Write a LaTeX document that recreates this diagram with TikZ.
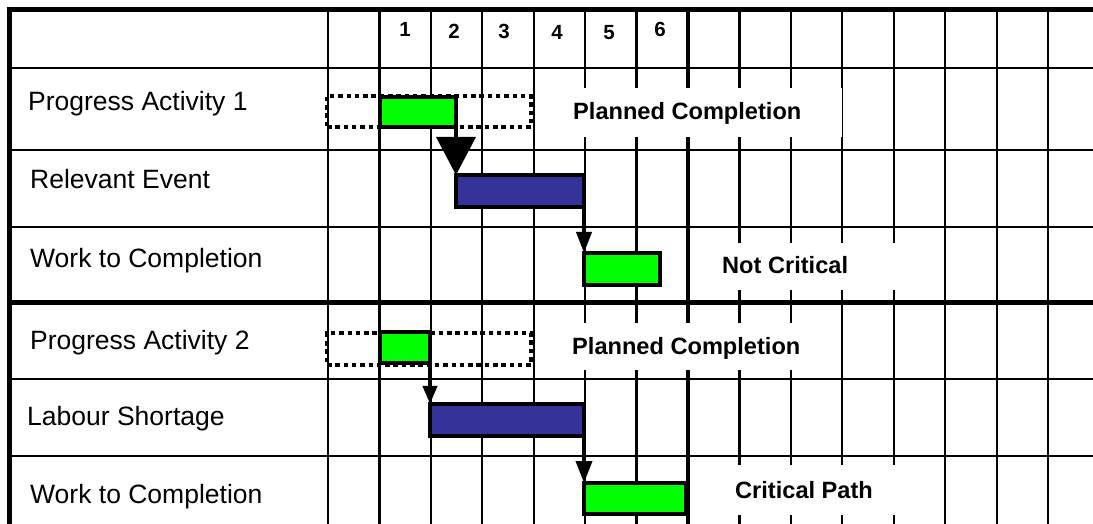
\documentclass[tikz,border=0pt]{standalone}
\usepackage{fontspec}
\setmainfont{Liberation Sans}
\usetikzlibrary{arrows.meta}
\definecolor{barGreen}{HTML}{00FF00}
\definecolor{barBlue}{HTML}{333399}
\begin{document}
\begin{tikzpicture}[x=1bp,y=-1bp,
  thin grid/.style={line width=2.2bp, draw=black},
  thick grid/.style={line width=5bp, draw=black},
  barbase/.style={rectangle, inner sep=0pt, outer sep=0pt},
  greenbar/.style={barbase, draw=black, fill=barGreen, line width=3.5bp},
  bluebar/.style={barbase, draw=black, fill=barBlue, line width=4bp},
  planbox/.style={barbase, draw=black, line width=4bp, dash pattern=on 4.5bp off 3.8bp},
  rowlabel/.style={anchor=base west, inner sep=0pt, font=\fontsize{26.5bp}{30bp}\selectfont},
  note/.style={anchor=base west, inner sep=0pt, font=\fontsize{23.6bp}{28bp}\selectfont\bfseries},
  daynum/.style={anchor=base, inner sep=0pt, font=\fontsize{20.5bp}{24bp}\selectfont\bfseries},
  link/.style={line width=3.8bp, draw=black},
  labelbg/.style={fill=white, draw=none}
]
\useasboundingbox (0,0) rectangle (1093,524);
\fill[white] (0,0) rectangle (1093,524);

% grid
\foreach \y in {68,150,227,379,456} \draw[thin grid] (9.2,\y) -- (1093,\y);
\draw[thick grid] (9.2,303) -- (1093,303);
\foreach \k in {0,...,14} \draw[thin grid] ({328+51.43*\k},9.2) -- ({328+51.43*\k},524);
\draw[line width=3.5bp] (688,9.2) -- (688,524);
\draw[thick grid] (6.7,9.2) -- (1093,9.2);
\draw[thick grid] (9.2,9.2) -- (9.2,524);

% day numbers
\node[daynum] (d1) at (405,37) {1};
\node[daynum] (d2) at (454,39) {2};
\node[daynum] (d3) at (504,39) {3};
\node[daynum] (d4) at (557,40) {4};
\node[daynum] (d5) at (609,40) {5};
\node[daynum] (d6) at (660,37) {6};

% row labels
\node[rowlabel] (l1) at (28,111) {Progress Activity 1};
\node[rowlabel] (l2) at (30,189) {Relevant Event};
\node[rowlabel] (l3) at (30,268) {Work to Completion};
\node[rowlabel] (l4) at (30,350) {Progress Activity 2};
\node[rowlabel] (l5) at (27,425) {Labour Shortage};
\node[rowlabel] (l6) at (30,503) {Work to Completion};

% planned boxes
\node[planbox, minimum width=204bp, minimum height=31bp] (p1) at (429,111.5) {};
\node[planbox, minimum width=204bp, minimum height=32bp] (p2) at (429,349) {};

% bars
\node[greenbar, minimum width=76bp, minimum height=30bp] (g1) at (418,112) {};
\node[bluebar, minimum width=128bp, minimum height=32bp] (b1) at (520,191) {};
\node[greenbar, minimum width=76bp, minimum height=32bp] (g3) at (622,269) {};
\node[greenbar, minimum width=50bp, minimum height=31bp] (g4) at (405,347.5) {};
\node[bluebar, minimum width=154bp, minimum height=32bp] (b5) at (507,420) {};
\node[greenbar, minimum width=102bp, minimum height=31bp] (g6) at (635,498.5) {};

% label backgrounds
\fill[labelbg] (536,88) rectangle (842,137);
\fill[labelbg] (536,323) rectangle (838,370);
\fill[labelbg] (690.5,243) rectangle (930,290);
\fill[labelbg] (690.5,465) rectangle (930,515);

\node[note] (n1) at (573,120) {Planned Completion};
\node[note] (n2) at (572,355) {Planned Completion};
\node[note] (n3) at (722,274) {Not Critical};
\node[note] (n4) at (735,498) {Critical Path};

% links
\draw[link, -{Triangle[width=39bp,length=38bp]}] (g1.south east) -- (g1.south east |- b1.north);
\draw[link, -{Triangle[width=15bp,length=21bp]}] (b1.south east) -- (b1.south east |- g3.north);
\draw[link, -{Triangle[width=14bp,length=18bp]}] (g4.south east) -- (g4.south east |- b5.north);
\draw[link, -{Triangle[width=16bp,length=22bp]}] (b5.south east) -- (b5.south east |- g6.north);
\end{tikzpicture}
\end{document}
